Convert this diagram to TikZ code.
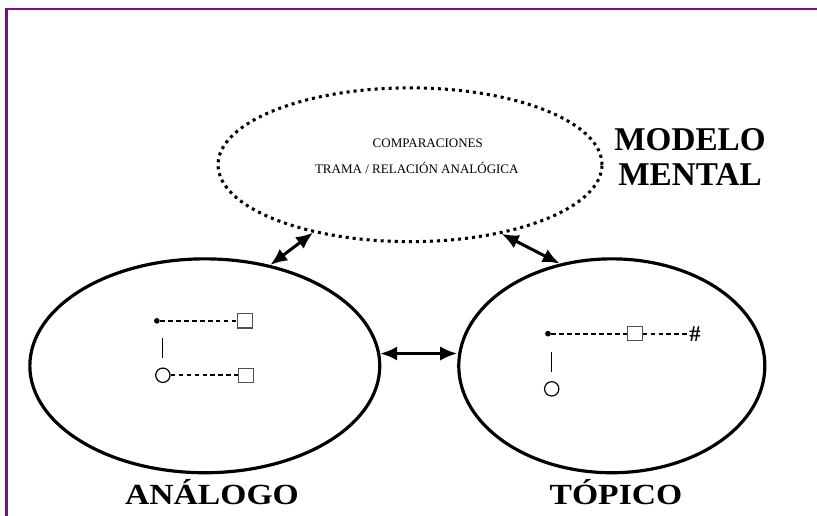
\documentclass[tikz,border=0pt]{standalone}
\usepackage{fontspec}
\setmainfont{Liberation Serif}
\usetikzlibrary{arrows.meta,positioning,shapes.geometric}
\definecolor{AmPurple}{RGB}{122,16,130}
\definecolor{AmInk}{RGB}{0,0,0}
\definecolor{AmGray}{RGB}{80,80,80}
\newcommand{\wideword}[1]{\scalebox{1.15}[1]{#1}}
\tikzset{
  am/domain/.style={
    ellipse,
    draw=AmInk,
    line width=2.4pt,
    inner sep=0pt,
    minimum height=5.66cm
  },
  am/model/.style={
    ellipse,
    draw=AmInk,
    line width=2.3pt,
    dash pattern=on 2.3pt off 3pt,
    inner sep=0pt,
    minimum width=10.16cm,
    minimum height=4.07cm
  },
  am/caption/.style={font=\bfseries\fontsize{22}{26}\selectfont, anchor=base},
  am/title/.style={font=\bfseries\fontsize{25}{26}\selectfont, align=center},
  am/note/.style={font=\fontsize{9.8}{11}\selectfont},
  am/dot/.style={circle, fill=AmInk, inner sep=0pt, minimum size=1.5mm},
  am/ring/.style={circle, draw=AmInk, line width=0.9pt, inner sep=0pt, minimum size=0.38cm},
  am/square/.style={draw=AmGray, line width=0.8pt, inner sep=0pt, minimum size=0.38cm},
  am/hash/.style={font=\bfseries\fontsize{17}{17}\selectfont, inner sep=1pt},
  am/link/.style={line width=1.5pt, dash pattern=on 3.6pt off 2.4pt},
  am/stem/.style={line width=0.8pt},
  am/arrow/.style={{Latex[length=4.5mm,width=3.8mm]}-{Latex[length=4.5mm,width=3.8mm]}, line width=2.3pt}
}

\begin{document}
\begin{tikzpicture}[x=1cm,y=1cm]
  \useasboundingbox (0,0) rectangle (21.62,13.65);
  \draw[line width=2pt, AmPurple] (0.18,0) -- (0.18,13.41) -- (21.62,13.41);

  % mental model on top
  \node[am/model] (mm) at (10.85,9.29) {};
  \node[am/note] (comp) at (11.32,9.87) {COMPARACIONES};
  \node[am/note] (plot) at (11.03,9.21) {TRAMA / RELACIÓN ANALÓGICA};
  \node[am/title] (title) at (18.26,9.50) {MODELO\\MENTAL};

  % the two domains
  \node[am/domain, minimum width=9.26cm] (ana) at (5.42,3.97) {};
  \node[am/domain, minimum width=8.10cm] (top) at (16.19,3.97) {};
  \node[am/caption] (anaName) at (5.61,0.29) {\wideword{ANÁLOGO}};
  \node[am/caption] (topName) at (16.3,0.29) {\wideword{TÓPICO}};

  \draw[am/arrow] (ana.57.7) -- (mm.215.2);
  \draw[am/arrow] (top.117.2) -- (mm.323.3);
  \draw[am/arrow] (ana.4.6) -- (ana.4.6 -| top.west);

  % analog symbols
  \node[am/dot] (dotA) at (4.15,5.16) {};
  \node[am/square] (sqA) at (6.48,5.16) {};
  \node[am/ring] (ringA) at (4.31,3.72) {};
  \node[am/square] (sqB) at (6.51,3.72) {};
  \draw[am/link] (dotA) -- (sqA);
  \draw[am/link] (ringA) -- (sqB);
  \draw[am/stem, shorten <=0.45cm, shorten >=0.24cm] (dotA -| ringA) -- (ringA.north);

  % topic symbols
  \node[am/dot] (dotB) at (14.50,4.82) {};
  \node[am/square] (sqC) at (16.80,4.82) {};
  \node[am/hash] (hash) at (18.39,4.82) {\#};
  \node[am/ring] (ringB) at (14.60,3.36) {};
  \draw[am/link] (dotB) -- (sqC);
  \draw[am/link] (sqC) -- (hash);
  \draw[am/stem, shorten <=0.48cm, shorten >=0.24cm] (dotB -| ringB) -- (ringB.north);
\end{tikzpicture}
\end{document}
